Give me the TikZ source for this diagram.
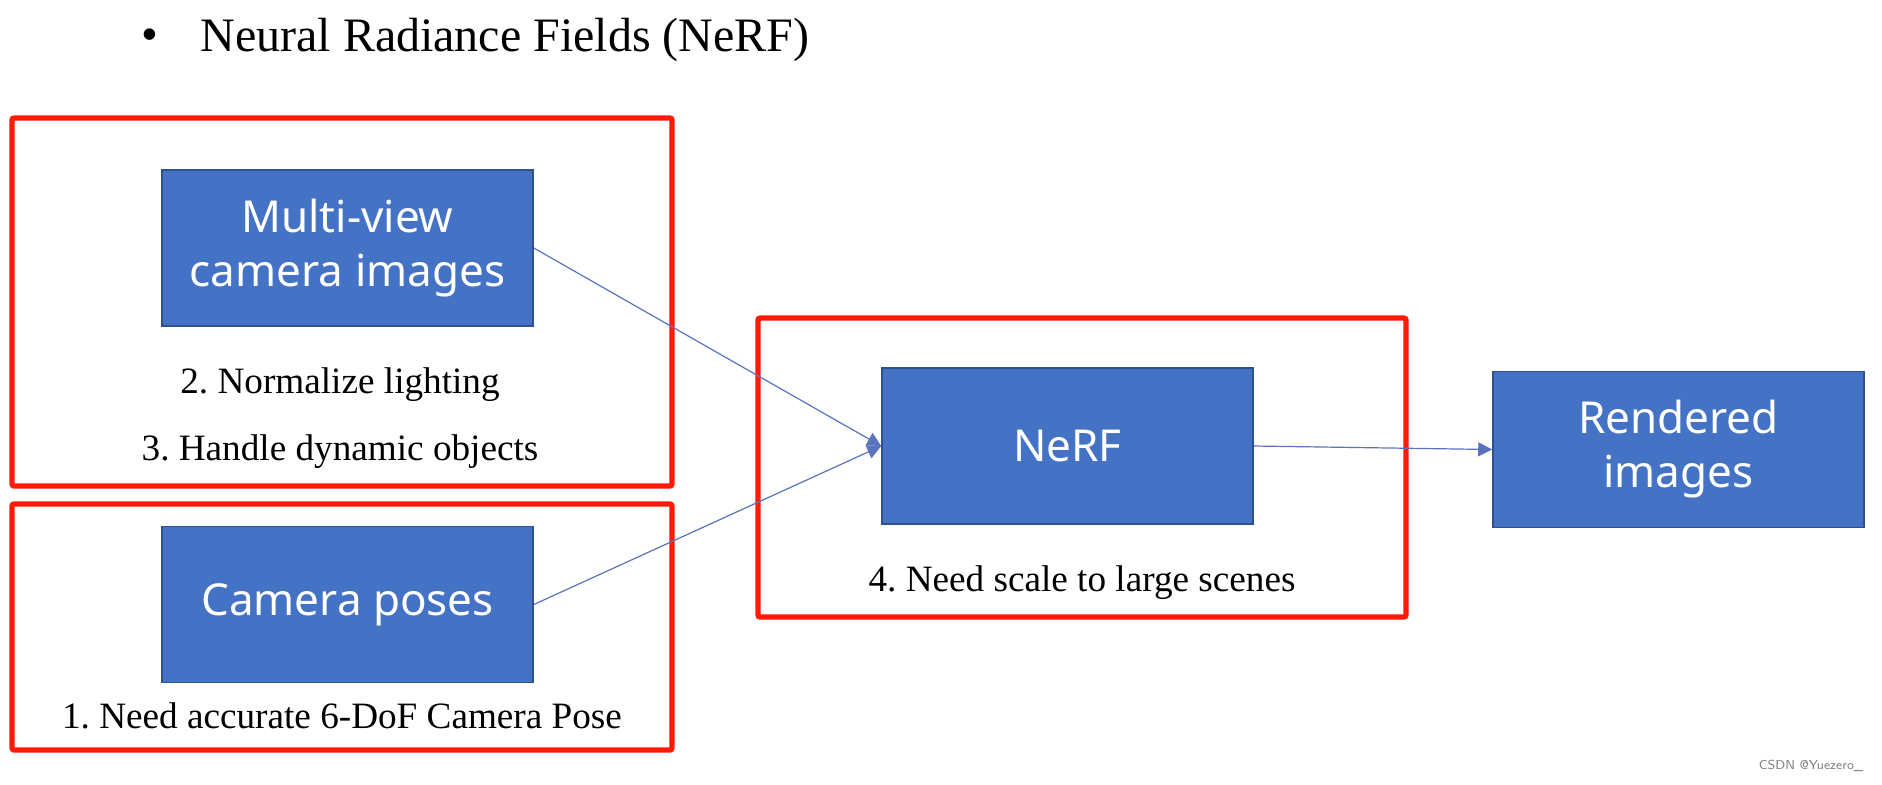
\documentclass[tikz,border=0pt]{standalone}
\usepackage{fontspec}
\setmainfont{Liberation Serif}
\newfontfamily\boxfont{Noto Sans}
\usetikzlibrary{arrows.meta,calc}
\definecolor{officeblue}{HTML}{4472C4}
\definecolor{officeedge}{HTML}{2F528F}
\definecolor{linkblue}{HTML}{5B73BD}
\definecolor{markred}{HTML}{FF1A0A}
\frenchspacing
\tikzset{
  block/.style={draw=officeedge, line width=0.8pt, fill=officeblue, text=white,
    minimum width=185.5pt, minimum height=78pt, align=center,
    font=\boxfont\fontsize{22}{27}\selectfont},
  frame/.style={draw=markred, line width=2.6pt, rounded corners=1pt, inner sep=0pt},
  note/.style={font=\fontsize{18.6}{22}\selectfont, inner sep=0pt},
  link/.style={draw=linkblue, line width=0.6pt, -{Triangle[length=7pt,width=7pt]}}
}
\begin{document}
\begin{tikzpicture}[x=0.5pt,y=-0.5pt]
\useasboundingbox[fill=white] (0,0) rectangle (1882,784);

\node[font=\fontsize{24}{28}\selectfont, inner sep=0pt] (dot) at (150,40) {\textbullet};
\node[font=\fontsize{24}{28}\selectfont, inner sep=0pt, anchor=west] (title) at (200,40) {Neural Radiance Fields (NeRF)};

\node[frame, minimum width=330pt, minimum height=184pt] (F1) at (342,302) {};
\node[frame, minimum width=330pt, minimum height=123pt] (F2) at (342,627) {};
\node[frame, minimum width=324pt, minimum height=149.5pt] (F3) at (1082,467.5) {};

\node[block] (views) at (347.5,248) {Multi-view\\camera images};
\node[block] (poses) at (347.5,604.5) {Camera poses};
\node[block] (nerf) at (1067.5,446) {NeRF};
\node[block] (render) at (1678.5,449.5) {Rendered\\images};

\node[note] (n2) at (340,385) {2. Normalize lighting};
\node[note] (n3) at (340,452) {3. Handle dynamic objects};
\node[note] (n1) at (342,716) {1. Need accurate 6-DoF Camera Pose};
\node[note] (n4) at (1082,583) {4. Need scale to large scenes};

\draw[link] (views.east) -- (nerf.west);
\draw[link] (poses.east) -- (nerf.west);
\draw[link] (nerf.east) -- (render.west);

\node[font=\sffamily\fontsize{6.5}{8}\selectfont, text=gray, inner sep=0pt] (mark) at (1811,766) {CSDN @Yuezero\_};
\end{tikzpicture}
\end{document}
